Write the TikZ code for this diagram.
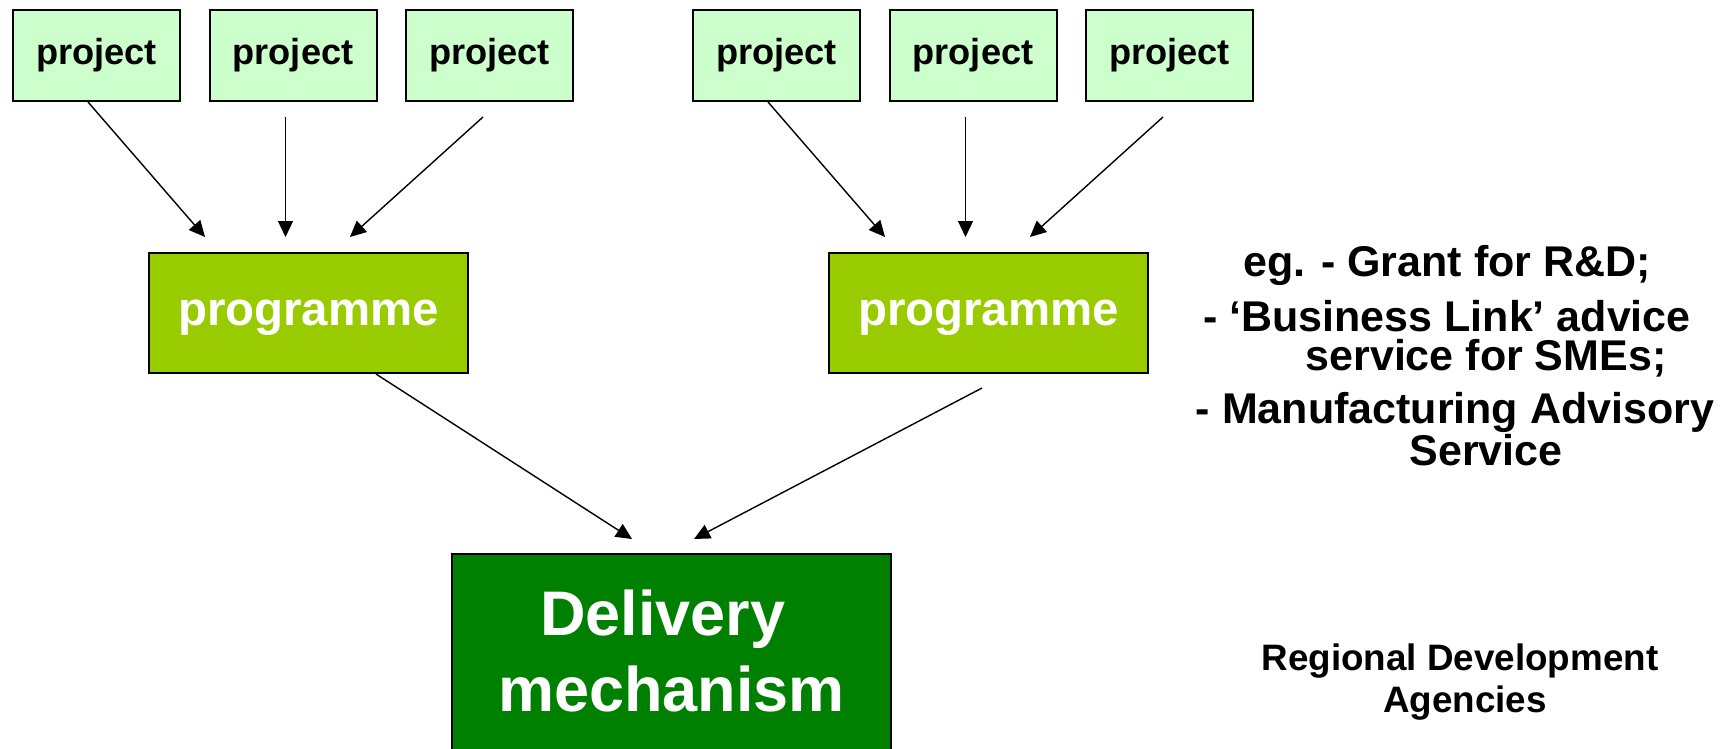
\documentclass[tikz,border=0pt]{standalone}
\usepackage{fontspec}
\setmainfont{Liberation Sans}
\usetikzlibrary{arrows.meta,positioning}
\tikzset{>/.tip={Triangle[length=16pt,width=15pt]}}
\definecolor{projfill}{HTML}{CCFFCC}
\definecolor{progfill}{HTML}{99CC00}
\definecolor{delivfill}{HTML}{008000}
\tikzset{
  project/.style={draw,line width=2pt,fill=projfill,minimum width=167pt,minimum height=91pt,inner sep=0pt,
    font=\fontsize{36.2}{43}\selectfont\bfseries},
  programme/.style={draw,line width=2pt,fill=progfill,text=white,minimum width=319pt,minimum height=120pt,inner sep=0pt,
    text depth=0pt,font=\fontsize{47.4}{57}\selectfont\bfseries},
  delivery/.style={draw,line width=2pt,fill=delivfill,minimum width=439pt,minimum height=220pt,inner sep=0pt},
  delivtext/.style={text=white,align=center,inner sep=0pt,font=\fontsize{63}{76}\selectfont\bfseries},
  note/.style={align=center,inner sep=0pt},
  link/.style={draw,->,line width=1.4pt}
}

\begin{document}
\begin{tikzpicture}[x=1pt,y=-1pt]
  \useasboundingbox (0,0) rectangle (1726,749);
  % projects
  \node[project] (p1) at (96.5,55.5) {project};
  \node[project] (p2) [right=27.5pt of p1] {project};
  \node[project] (p3) [right=27.5pt of p2] {project};
  \node[project] (p4) [right=118pt of p3] {project};
  \node[project] (p5) [right=27.5pt of p4] {project};
  \node[project] (p6) [right=27.5pt of p5] {project};
  % programmes
  \node[programme] (g1) at (308.5,313) {programme};
  \node[programme] (g2) at (988.5,313) {programme};
  % delivery mechanism
  \node[delivery] (dm) at (671.5,664) {};
  \node[delivtext] (dmtext) at (671.5,650.5) {Delivery\hspace*{.28em}\\mechanism};
  % notes (base = last line)
  \node[note,anchor=base,font=\fontsize{43}{39}\selectfont\bfseries] (eg) at (1447,465)
    {eg. - Grant for R\&D;\\[14pt]
     - ‘Business Link’ advice\\
     \hspace*{78pt}service for SMEs;\\[14pt]
     \hspace*{16pt}- Manufacturing Advisory\\
     \hspace*{78pt}Service};
  \node[note,anchor=base,font=\fontsize{36.8}{42}\selectfont\bfseries] (rda) at (1465,712)
    {Regional Development\hspace*{10pt}\\Agencies};
  \path
    ([xshift=-8.5pt]p1.south) edge[link] ([xshift=-103.5pt,yshift=15pt]g1.north)
    ([xshift=-7.5pt,yshift=-15pt]p2.south) edge[link] ([xshift=-23pt,yshift=15pt]g1.north)
    ([xshift=-6.5pt,yshift=-15pt]p3.south) edge[link] ([xshift=41.5pt,yshift=15pt]g1.north)
    ([xshift=-8.5pt]p4.south) edge[link] ([xshift=-103.5pt,yshift=15pt]g2.north)
    ([xshift=-7.5pt,yshift=-15pt]p5.south) edge[link] ([xshift=-23pt,yshift=15pt]g2.north)
    ([xshift=-6.5pt,yshift=-15pt]p6.south) edge[link] ([xshift=41.5pt,yshift=15pt]g2.north)
    ([xshift=67.5pt]g1.south) edge[link] ([xshift=-39.5pt,yshift=14pt]dm.north)
    ([xshift=-6.5pt,yshift=-14pt]g2.south) edge[link] ([xshift=22.5pt,yshift=14pt]dm.north);
\end{tikzpicture}
\end{document}
